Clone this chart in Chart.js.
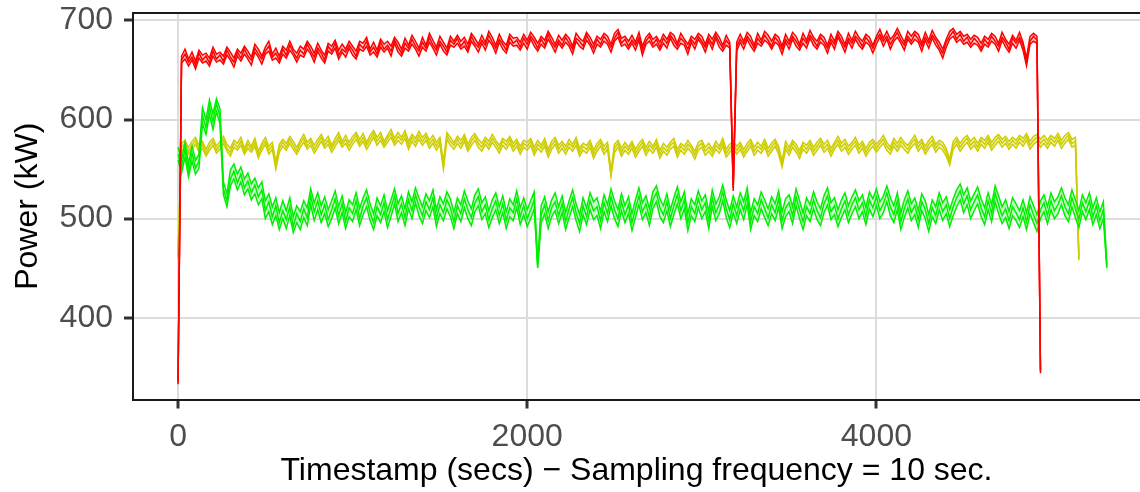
<!DOCTYPE html>
<html>
<head>
<meta charset="utf-8">
<script src="https://cdn.jsdelivr.net/npm/chart.js@4.4.1/dist/chart.umd.min.js"></script>
<style>
    html, body { margin: 0; padding: 0; background: #ffffff; overflow: hidden; }
    #wrap { width: 1140px; height: 492px; }
</style>
</head>
<body>
<div id="wrap"><canvas id="chart" width="1140" height="492"></canvas></div>
<script>
// --- Dane (co 20 s) ---
const xTicks = [0, 2000, 4000];
const yTicks = [400, 500, 600, 700];

// wspólna oś czasu (s)
const timeSec = [
    0, 20, 40, 60, 80, 100, 120, 140, 160, 180,
    200, 220, 240, 260, 280, 300, 320, 340, 360, 380,
    400, 420, 440, 460, 480, 500, 520, 540, 560, 580,
    600, 620, 640, 660, 680, 700, 720, 740, 760, 780,
    800, 820, 840, 860, 880, 900, 920, 940, 960, 980,
    1000, 1020, 1040, 1060, 1080, 1100, 1120, 1140, 1160, 1180,
    1200, 1220, 1240, 1260, 1280, 1300, 1320, 1340, 1360, 1380,
    1400, 1420, 1440, 1460, 1480, 1500, 1520, 1540, 1560, 1580,
    1600, 1620, 1640, 1660, 1680, 1700, 1720, 1740, 1760, 1780,
    1800, 1820, 1840, 1860, 1880, 1900, 1920, 1940, 1960, 1980,
    2000, 2020, 2040, 2060, 2080, 2100, 2120, 2140, 2160, 2180,
    2200, 2220, 2240, 2260, 2280, 2300, 2320, 2340, 2360, 2380,
    2400, 2420, 2440, 2460, 2480, 2500, 2520, 2540, 2560, 2580,
    2600, 2620, 2640, 2660, 2680, 2700, 2720, 2740, 2760, 2780,
    2800, 2820, 2840, 2860, 2880, 2900, 2920, 2940, 2960, 2980,
    3000, 3020, 3040, 3060, 3080, 3100, 3120, 3140, 3160, 3180,
    3200, 3220, 3240, 3260, 3280, 3300, 3320, 3340, 3360, 3380,
    3400, 3420, 3440, 3460, 3480, 3500, 3520, 3540, 3560, 3580,
    3600, 3620, 3640, 3660, 3680, 3700, 3720, 3740, 3760, 3780,
    3800, 3820, 3840, 3860, 3880, 3900, 3920, 3940, 3960, 3980,
    4000, 4020, 4040, 4060, 4080, 4100, 4120, 4140, 4160, 4180,
    4200, 4220, 4240, 4260, 4280, 4300, 4320, 4340, 4360, 4380,
    4400, 4420, 4440, 4460, 4480, 4500, 4520, 4540, 4560, 4580,
    4600, 4620, 4640, 4660, 4680, 4700, 4720, 4740, 4760, 4780,
    4800, 4820, 4840, 4860, 4880, 4900, 4920, 4940, 4960, 4980,
    5000, 5020, 5040, 5060, 5080, 5100, 5120, 5140, 5160, 5180,
    5200, 5220, 5240, 5260, 5280, 5300, 5320
];

// czerwona seria (0 - 4940 s)
const redMid = [
    335, 660, 666, 658, 663, 655, 667, 660, 664, 657,
    669, 661, 665, 659, 670, 663, 658, 668, 662, 671,
    664, 660, 672, 666, 661, 669, 674, 663, 667, 660,
    671, 665, 675, 668, 662, 670, 666, 676, 669, 663,
    672, 667, 660, 674, 669, 677, 665, 671, 668, 675,
    670, 664, 676, 672, 679, 668, 673, 666, 678, 671,
    675, 669, 680, 673, 667, 677, 672, 681, 674, 669,
    678, 672, 683, 675, 670, 679, 674, 668, 680, 676,
    682, 674, 679, 671, 684, 677, 673, 680, 675, 685,
    678, 672, 681, 676, 670, 683, 677, 680, 673, 682,
    676, 684, 679, 672, 681, 675, 686, 678, 673, 680,
    675, 683, 677, 671, 682, 679, 674, 685, 678, 672,
    681, 676, 684, 679, 673, 682, 688, 677, 681, 674,
    680, 675, 683, 670, 679, 684, 676, 681, 673, 682,
    677, 685, 680, 674, 682, 678, 671, 681, 676, 684,
    679, 673, 682, 676, 685, 678, 672, 680, 675, 531,
    674, 681, 676, 684, 679, 672, 682, 677, 685, 680,
    674, 683, 678, 671, 681, 676, 684, 679, 673, 682,
    677, 685, 680, 674, 683, 678, 672, 681, 676, 686,
    679, 673, 682, 677, 684, 680, 674, 683, 678, 672,
    681, 686, 679, 684, 676, 682, 688, 680, 675, 684,
    679, 686, 681, 674, 683, 677, 685, 680, 673, 667,
    678, 684, 689, 681, 686, 679, 683, 676, 682, 678,
    672, 681, 676, 684, 679, 674, 683, 678, 671, 682,
    677, 683, 675, 658, 679, 684, 680, 346
];
const redHigh = [
    337, 664, 671, 661, 668, 659, 670, 665, 667, 662,
    673, 666, 668, 664, 673, 668, 662, 671, 667, 674,
    669, 663, 676, 671, 664, 673, 679, 666, 672, 664,
    674, 670, 679, 671, 667, 674, 671, 679, 674, 667,
    677, 670, 665, 677, 674, 680, 670, 676, 671, 679,
    674, 669, 679, 677, 683, 671, 678, 670, 681, 676,
    679, 674, 683, 678, 671, 682, 675, 685, 679, 672,
    683, 675, 687, 680, 673, 684, 678, 672, 684, 679,
    685, 679, 683, 676, 687, 682, 676, 685, 678, 689,
    683, 675, 686, 679, 675, 686, 682, 683, 678, 686,
    680, 688, 683, 677, 684, 680, 689, 683, 676, 685,
    680, 686, 682, 674, 687, 682, 679, 688, 683, 676,
    684, 681, 687, 684, 676, 687, 691, 682, 684, 679,
    685, 678, 688, 674, 683, 687, 681, 684, 678, 686,
    681, 688, 685, 677, 687, 681, 676, 684, 681, 687,
    684, 676, 686, 681, 688, 683, 675, 685, 678, 534,
    678, 686, 679, 688, 684, 675, 687, 680, 689, 685,
    679, 686, 683, 674, 686, 679, 688, 684, 676, 687,
    680, 690, 683, 679, 686, 683, 675, 686, 679, 689,
    684, 676, 687, 680, 689, 683, 679, 686, 683, 675,
    684, 691, 682, 689, 681, 685, 692, 685, 678, 689,
    684, 689, 686, 677, 688, 680, 690, 683, 678, 671,
    681, 689, 692, 686, 689, 684, 686, 681, 685, 683,
    677, 684, 681, 687, 684, 677, 688, 681, 676, 685,
    680, 688, 678, 662, 684, 687, 684, 348
];
const redLow = [
    333, 657, 661, 654, 660, 651, 662, 657, 659, 654,
    664, 658, 660, 656, 665, 660, 653, 664, 659, 666,
    661, 655, 668, 663, 656, 666, 669, 660, 662, 657,
    666, 662, 670, 665, 658, 665, 663, 671, 666, 658,
    669, 662, 657, 669, 666, 672, 661, 668, 663, 672,
    665, 661, 671, 669, 674, 665, 668, 663, 673, 668,
    672, 664, 677, 668, 664, 672, 669, 676, 671, 664,
    673, 669, 678, 672, 665, 676, 669, 665, 675, 673,
    677, 671, 674, 668, 679, 674, 668, 677, 670, 680,
    675, 667, 678, 671, 667, 678, 674, 675, 670, 677,
    671, 681, 674, 669, 676, 672, 681, 675, 668, 677,
    672, 678, 674, 666, 679, 674, 671, 680, 675, 667,
    676, 673, 679, 676, 668, 679, 683, 674, 676, 671,
    677, 670, 680, 665, 676, 679, 673, 676, 670, 677,
    672, 682, 675, 671, 677, 675, 666, 678, 671, 681,
    676, 668, 679, 671, 682, 673, 669, 675, 672, 528,
    669, 678, 671, 681, 674, 669, 677, 674, 680, 677,
    671, 678, 675, 666, 678, 671, 681, 674, 670, 677,
    672, 682, 675, 671, 678, 675, 667, 678, 671, 683,
    676, 668, 679, 672, 681, 675, 671, 678, 675, 667,
    676, 683, 674, 681, 671, 679, 683, 677, 670, 681,
    676, 681, 678, 669, 680, 672, 682, 675, 670, 662,
    673, 681, 684, 678, 681, 676, 678, 673, 677, 675,
    669, 676, 673, 679, 676, 669, 680, 673, 668, 677,
    672, 680, 670, 654, 676, 679, 677, 344
];

// żółta seria (0 - 5160 s)
const yellowMid = [
    462, 572, 576, 568, 574, 579, 570, 575, 566, 573,
    578, 569, 574, 580, 571, 567, 576, 572, 578, 568,
    575, 570, 577, 564, 573, 578, 569, 574, 553, 571,
    577, 572, 580, 574, 568, 576, 581, 573, 578, 570,
    576, 582, 574, 579, 571, 577, 583, 575, 580, 573,
    579, 584, 576, 582, 574, 580, 586, 578, 583, 575,
    581, 586, 577, 583, 579, 585, 574, 582, 577, 584,
    578, 583, 575, 580, 573, 579, 553, 584, 578, 574,
    580, 575, 582, 571, 578, 583, 576, 572, 579, 574,
    581, 576, 570, 578, 574, 580, 572, 577, 569, 576,
    573, 578, 568, 575, 571, 577, 566, 574, 579, 570,
    575, 569, 576, 572, 578, 567, 573, 570, 576, 565,
    572, 577, 569, 574, 545, 571, 576, 567, 573, 569,
    575, 566, 572, 577, 568, 574, 570, 576, 565, 572,
    568, 574, 577, 566, 573, 569, 575, 571, 564, 573,
    576, 568, 572, 567, 574, 570, 577, 566, 571, 575,
    569, 574, 566, 572, 577, 568, 573, 570, 576, 567,
    572, 577, 569, 555, 574, 568, 576, 571, 565, 574,
    570, 576, 568, 573, 578, 571, 575, 567, 574, 579,
    572, 576, 569, 574, 578, 570, 575, 567, 573, 577,
    571, 576, 580, 573, 569, 577, 572, 578, 574, 570,
    576, 580, 572, 577, 569, 575, 579, 571, 576, 573,
    567, 557, 574, 579, 572, 577, 581, 574, 578, 572,
    579, 575, 581, 573, 578, 582, 576, 580, 574, 579,
    575, 581, 577, 583, 574, 579, 582, 576, 580, 575,
    581, 577, 583, 575, 580, 584, 576, 578, 460
];
const yellowHigh = [
    465, 576, 579, 572, 578, 582, 574, 578, 570, 577,
    581, 573, 578, 583, 575, 571, 579, 576, 582, 571,
    579, 573, 581, 568, 576, 582, 573, 577, 557, 575,
    580, 576, 583, 578, 572, 579, 585, 577, 581, 574,
    580, 585, 578, 583, 574, 581, 587, 578, 584, 577,
    583, 587, 580, 586, 577, 584, 589, 582, 587, 578,
    584, 590, 581, 587, 582, 589, 578, 585, 581, 588,
    582, 586, 579, 584, 577, 582, 557, 587, 582, 577,
    583, 579, 585, 575, 582, 586, 580, 576, 582, 578,
    585, 579, 574, 581, 578, 583, 576, 580, 573, 579,
    577, 581, 572, 579, 574, 581, 570, 578, 582, 574,
    578, 573, 580, 575, 582, 571, 576, 574, 579, 569,
    576, 580, 573, 577, 548, 575, 579, 571, 577, 572,
    578, 570, 576, 580, 572, 578, 573, 580, 569, 576,
    572, 577, 581, 570, 576, 573, 579, 574, 568, 577,
    579, 572, 576, 570, 578, 573, 581, 570, 575, 578,
    573, 577, 570, 576, 580, 572, 577, 573, 580, 571,
    576, 580, 573, 558, 578, 572, 579, 575, 569, 577,
    574, 579, 572, 577, 581, 575, 579, 571, 577, 583,
    576, 580, 573, 577, 582, 574, 578, 571, 577, 580,
    575, 579, 584, 577, 572, 581, 576, 582, 577, 574,
    579, 584, 576, 580, 573, 579, 583, 575, 579, 577,
    571, 560, 578, 582, 576, 581, 584, 578, 582, 576,
    582, 579, 584, 577, 582, 585, 580, 583, 578, 582,
    579, 584, 581, 586, 578, 583, 585, 580, 584, 579,
    584, 581, 586, 579, 584, 587, 580, 582, 462
];
const yellowLow = [
    460, 568, 572, 565, 570, 575, 567, 571, 563, 569,
    574, 566, 570, 576, 568, 563, 572, 569, 574, 565,
    571, 567, 573, 561, 569, 575, 565, 570, 550, 567,
    573, 569, 576, 570, 565, 572, 577, 570, 574, 566,
    572, 578, 571, 575, 567, 573, 579, 572, 576, 569,
    575, 580, 573, 578, 570, 576, 582, 574, 579, 572,
    577, 582, 574, 579, 575, 581, 570, 578, 573, 580,
    574, 579, 571, 576, 569, 575, 550, 580, 574, 570,
    576, 571, 578, 568, 574, 579, 572, 568, 575, 570,
    577, 572, 566, 574, 570, 576, 568, 573, 565, 572,
    569, 574, 564, 571, 567, 573, 562, 570, 575, 566,
    571, 565, 572, 568, 574, 563, 569, 566, 572, 561,
    568, 573, 565, 570, 543, 567, 572, 563, 569, 565,
    571, 562, 568, 573, 564, 570, 566, 572, 561, 568,
    564, 570, 573, 562, 569, 565, 571, 567, 560, 569,
    572, 564, 568, 563, 570, 566, 573, 562, 567, 571,
    565, 570, 562, 568, 573, 564, 569, 566, 572, 563,
    568, 573, 565, 552, 570, 564, 572, 567, 561, 570,
    566, 572, 564, 569, 574, 567, 571, 563, 570, 575,
    568, 572, 565, 570, 574, 566, 571, 563, 569, 573,
    567, 572, 576, 569, 565, 573, 568, 574, 570, 566,
    572, 576, 568, 573, 565, 571, 575, 567, 572, 569,
    563, 554, 570, 575, 568, 573, 577, 570, 574, 568,
    575, 571, 577, 569, 574, 578, 572, 576, 570, 575,
    571, 577, 573, 579, 570, 575, 578, 572, 576, 571,
    577, 573, 579, 571, 576, 580, 572, 574, 458
];

// zielona seria (0 - 5320 s)
const greenMid = [
    565, 552, 570, 548, 566, 551, 558, 604, 592, 613,
    598, 616, 603, 530, 518, 540, 548, 536, 545, 531,
    538, 526, 534, 522, 529, 508, 517, 502, 513, 496,
    508, 499, 512, 492, 505, 497, 510, 501, 523, 507,
    518, 504, 514, 499, 509, 520, 503, 515, 497, 511,
    505, 518, 500, 513, 521, 506, 496, 512, 504, 516,
    499, 511, 523, 505, 515, 501, 519, 508, 524, 512,
    503, 517, 509, 521, 500, 514, 506, 519, 511, 497,
    513, 505, 520, 509, 501, 516, 522, 507, 514, 499,
    510, 518, 503, 515, 498, 511, 506, 520, 502, 513,
    500, 509, 519, 452, 504, 514, 498, 511, 517, 503,
    515, 497, 510, 521, 506, 495, 513, 502, 518, 508,
    512, 498, 516, 505, 522, 509, 500, 517, 504, 514,
    496, 510, 523, 507, 515, 501, 519, 526, 511, 504,
    517, 500, 513, 524, 508, 519, 496, 512, 505, 520,
    509, 516, 498, 521, 506, 514, 527, 510, 499, 515,
    503, 518, 508, 523, 497, 512, 505, 519, 510, 501,
    514, 506, 520, 498, 511, 516, 503, 522, 509, 497,
    512, 505, 519, 508, 501, 515, 523, 507, 513, 500,
    510, 518, 504, 514, 521, 509, 516, 502, 519, 511,
    522, 508, 515, 526, 512, 504, 518, 497, 510, 520,
    506, 513, 499, 517, 509, 495, 511, 503, 518, 507,
    514, 500, 512, 521, 528, 515, 523, 509, 517, 524,
    511, 502, 518, 505, 526, 514, 503, 510, 498, 512,
    506, 499, 511, 497, 514, 504, 495, 509, 516, 503,
    518, 508, 514, 523, 512, 505, 521, 510, 499, 516,
    507, 518, 502, 513, 498, 509, 452
];
const greenHigh = [
    572, 560, 577, 556, 573, 559, 565, 612, 600, 620,
    606, 621, 611, 537, 525, 549, 555, 545, 552, 540,
    546, 535, 541, 531, 537, 518, 525, 512, 521, 506,
    518, 508, 521, 502, 513, 507, 518, 511, 530, 516,
    526, 513, 522, 509, 518, 528, 512, 523, 506, 519,
    514, 526, 510, 521, 529, 515, 505, 521, 513, 524,
    508, 519, 530, 515, 523, 510, 527, 517, 531, 521,
    512, 525, 518, 529, 509, 522, 515, 527, 520, 506,
    521, 514, 528, 518, 510, 524, 530, 516, 522, 508,
    519, 526, 512, 523, 507, 520, 514, 528, 511, 521,
    509, 518, 527, 455, 513, 522, 507, 519, 526, 512,
    523, 506, 518, 529, 515, 504, 521, 511, 526, 517,
    521, 507, 524, 514, 530, 518, 509, 525, 513, 522,
    505, 519, 531, 516, 523, 510, 527, 533, 520, 513,
    525, 509, 521, 532, 517, 527, 505, 520, 514, 528,
    518, 524, 507, 529, 515, 522, 534, 519, 508, 523,
    512, 526, 517, 531, 506, 520, 514, 527, 519, 510,
    522, 515, 528, 507, 520, 524, 512, 530, 518, 506,
    521, 514, 527, 517, 510, 523, 531, 516, 521, 509,
    519, 526, 513, 522, 529, 518, 524, 511, 527, 520,
    530, 517, 523, 533, 521, 513, 526, 506, 519, 528,
    515, 521, 508, 525, 518, 504, 519, 512, 526, 516,
    522, 509, 520, 529, 535, 524, 531, 518, 525, 532,
    520, 511, 526, 514, 533, 523, 512, 519, 507, 521,
    515, 508, 519, 506, 522, 513, 504, 518, 524, 512,
    526, 517, 522, 531, 521, 514, 529, 519, 508, 524,
    516, 526, 511, 521, 507, 517, 454
];
const greenLow = [
    559, 546, 562, 542, 558, 545, 551, 596, 585, 605,
    590, 608, 596, 524, 512, 533, 540, 529, 537, 524,
    530, 519, 525, 514, 520, 500, 507, 494, 503, 489,
    500, 490, 503, 486, 496, 489, 501, 493, 514, 498,
    509, 496, 505, 492, 500, 511, 495, 506, 490, 502,
    497, 509, 493, 504, 512, 498, 489, 503, 496, 507,
    491, 502, 515, 497, 506, 493, 510, 500, 516, 503,
    495, 508, 501, 512, 492, 505, 498, 510, 502, 490,
    505, 497, 511, 500, 493, 507, 513, 499, 505, 491,
    501, 509, 495, 506, 490, 502, 498, 511, 494, 504,
    492, 500, 510, 450, 496, 505, 490, 502, 508, 495,
    506, 489, 501, 512, 498, 487, 504, 494, 509, 499,
    503, 490, 507, 497, 513, 500, 492, 508, 496, 505,
    488, 501, 514, 499, 506, 493, 510, 517, 502, 496,
    508, 492, 504, 515, 500, 510, 488, 503, 497, 511,
    500, 507, 490, 512, 498, 505, 518, 501, 491, 506,
    495, 509, 499, 514, 489, 503, 497, 510, 501, 493,
    505, 498, 511, 490, 502, 507, 495, 513, 500, 489,
    503, 497, 510, 499, 493, 506, 514, 499, 504, 492,
    501, 509, 496, 505, 512, 500, 507, 494, 510, 502,
    513, 500, 506, 517, 503, 496, 509, 489, 501, 511,
    498, 504, 491, 508, 500, 487, 502, 495, 509, 498,
    505, 492, 503, 512, 519, 506, 514, 500, 508, 515,
    502, 494, 509, 497, 517, 505, 495, 501, 490, 503,
    498, 491, 502, 489, 505, 496, 487, 500, 507, 495,
    509, 500, 505, 514, 503, 497, 512, 501, 491, 507,
    499, 509, 494, 504, 490, 500, 450
];

// --- Pomocnicze ---
const FONT = "'Liberation Sans', Arial, sans-serif";

function toPoints(values) {
    return values.map((v, i) => ({ x: timeSec[i], y: v }));
}

// wstęga: górna linia (wypełniona do dolnej), środek, dolna
function ribbon(hi, mid, lo, color, fillColor) {
    const base = { borderColor: color, borderWidth: 1.5, pointRadius: 0, tension: 0 };
    return [
        { ...base, data: toPoints(hi), fill: '+2', backgroundColor: fillColor },
        { ...base, data: toPoints(mid), fill: false },
        { ...base, data: toPoints(lo), fill: false }
    ];
}

// górna krawędź ramki panelu
const topBorder = {
    id: 'topBorder',
    afterDraw(chart) {
        const { ctx, chartArea } = chart;
        ctx.save();
        ctx.strokeStyle = '#1a1a1a';
        ctx.lineWidth = 2;
        ctx.beginPath();
        ctx.moveTo(chartArea.left - 1, chartArea.top);
        ctx.lineTo(chartArea.right, chartArea.top);
        ctx.stroke();
        ctx.restore();
    }
};

// pierwszy zestaw jest rysowany na wierzchu
const datasets = [
    ...ribbon(redHigh, redMid, redLow, '#ff0000', 'rgba(255,0,0,0.2)'),
    ...ribbon(greenHigh, greenMid, greenLow, '#00ee00', 'rgba(0,238,0,0.2)'),
    ...ribbon(yellowHigh, yellowMid, yellowLow, '#cdcd00', 'rgba(205,205,0,0.2)')
];

const gridOpts = { color: '#dcdcdc', lineWidth: 2, tickColor: '#333333', tickLength: 9, tickWidth: 3 };

new Chart(document.getElementById('chart'), {
    type: 'line',
    data: { datasets },
    plugins: [topBorder],
    options: {
        responsive: false,
        animation: false,
        layout: { padding: { top: 13, right: 0, left: 0, bottom: 0 } },
        plugins: {
            legend: { display: false },
            tooltip: { enabled: false }
        },
        scales: {
            x: {
                type: 'linear',
                min: -258,
                max: 5510,
                afterBuildTicks: (scale) => { scale.ticks = xTicks.map(v => ({ value: v })); },
                afterFit: (scale) => {
                    scale.height = 92.5;
                    scale.paddingLeft = 0;
                    scale.paddingRight = 0;
                },
                grid: gridOpts,
                border: { display: true, color: '#1a1a1a', width: 2 },
                ticks: {
                    color: '#4d4d4d',
                    padding: 9,
                    maxRotation: 0,
                    font: { family: FONT, size: 32 },
                    callback: (v) => String(v)
                },
                title: {
                    display: true,
                    text: 'Timestamp (secs) \u2212 Sampling frequency = 10 sec.',
                    color: '#000000',
                    font: { family: FONT, size: 32 },
                    padding: { top: 0, bottom: 2 }
                }
            },
            y: {
                min: 317.5,
                max: 707.5,
                afterBuildTicks: (scale) => { scale.ticks = yTicks.map(v => ({ value: v })); },
                afterFit: (scale) => {
                    scale.width = 133;
                    scale.paddingTop = 0;
                    scale.paddingBottom = 0;
                },
                grid: gridOpts,
                border: { display: true, color: '#1a1a1a', width: 2 },
                ticks: {
                    color: '#4d4d4d',
                    padding: 11,
                    font: { family: FONT, size: 32 },
                    callback: (v) => String(v)
                },
                title: {
                    display: true,
                    text: 'Power (kW)',
                    color: '#000000',
                    font: { family: FONT, size: 32 },
                    padding: { top: 9, bottom: 0 }
                }
            }
        }
    }
});
</script>
</body>
</html>
